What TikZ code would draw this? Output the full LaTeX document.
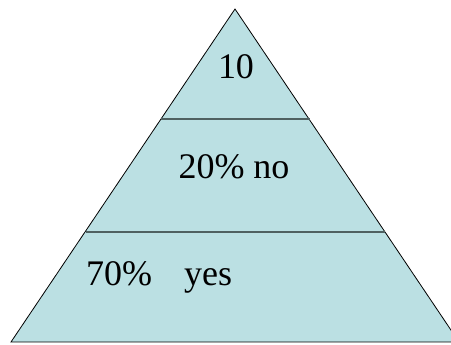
\documentclass[tikz,border=0pt]{standalone}
\usepackage{fontspec}
\setmainfont{Liberation Serif}
\definecolor{pyrfill}{HTML}{BBE0E3}
\definecolor{divline}{HTML}{4F6161}
\begin{document}
\begin{tikzpicture}[x=1pt,y=1pt,
  lbl/.style={inner sep=0pt,font=\fontsize{36}{40}\selectfont}]
\useasboundingbox (0,0) rectangle (451,345);
\clip (0,0) rectangle (451,345);
\coordinate (apex) at (235,336);
\coordinate (bl) at (11,3);
\coordinate (br) at (459,3);
\filldraw[fill=pyrfill,draw=black,line width=0.8pt,line join=miter] (bl) -- (apex) -- (br) -- cycle;
\draw[divline,line width=2.2pt] (161,226) -- (310,226);
\draw[divline,line width=2.2pt] (86,113) -- (385,113);
\node[lbl,anchor=base] (t1) at (236,266) {10};
\node[lbl,anchor=base] (t2) at (234,166) {20\% no};
\node[lbl,anchor=base west] (t3) at (86,59) {70\%\hspace{32pt}yes};
\end{tikzpicture}
\end{document}
